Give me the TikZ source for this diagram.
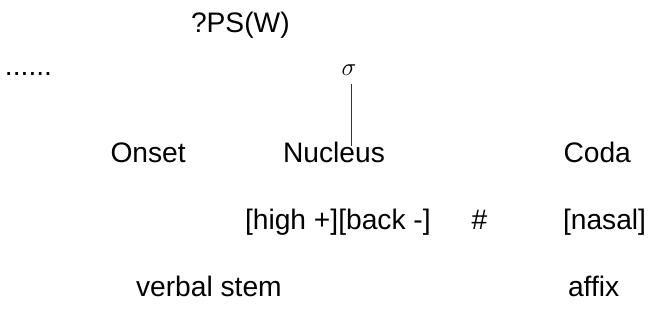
\documentclass[tikz,border=0pt]{standalone}
\usepackage{fontspec}
\setmainfont{Liberation Sans}
\begin{document}
\begin{tikzpicture}[x=1pt,y=-1pt,
  lbl/.style={anchor=base west,inner sep=0pt,outer sep=0pt,
    font=\fontsize{28.2}{30}\selectfont},
  greek/.style={anchor=base,inner sep=0pt,outer sep=0pt,
    font=\fontsize{27}{29}\selectfont},
  stem/.style={draw=black!80,line width=0.8pt}]
\useasboundingbox (0,0) rectangle (651,325);
% top label and the ellipsis
\node[lbl] (ps) at (191,32) {?PS(W)};
\node[lbl] (dots) at (5,75) {......};
% syllable node
\node[greek] (sigma) at (349,75) {$\sigma$};
% syllable constituents
\node[lbl] (onset) at (110.5,162) {Onset};
\node[lbl] (nucleus) at (283,162) {Nucleus};
\node[lbl] (coda) at (563.5,162) {Coda};
% features
\node[lbl] (feat) at (245,229) {[high +][back -]};
\node[lbl] (hash) at (471.5,229) {\#};
\node[lbl] (nasal) at (563,229) {[nasal]};
% morphology
\node[lbl] (verb) at (136,296) {verbal stem};
\node[lbl] (affix) at (568,296) {affix};
% branch from sigma down into the nucleus
\coordinate (top) at (351,84);
\coordinate (bot) at (351,146);
\draw[stem] (top) -- (bot);
\end{tikzpicture}
\end{document}
